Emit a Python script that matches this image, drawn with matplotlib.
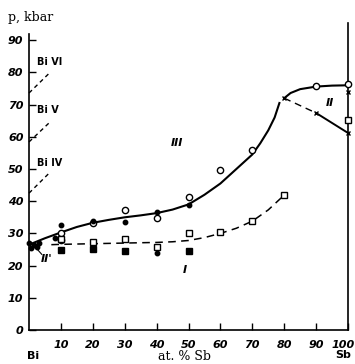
import matplotlib.pyplot as plt
from matplotlib.transforms import ScaledTranslation

# --- data ---
# curve III (solid), Bi side up to the kink near 80 % Sb
curve3_x = [0, 5, 10, 15, 20, 25, 30, 35, 40, 45, 50, 55, 60, 65, 70, 72.5, 75, 77, 78.5]
curve3_y = [26.5, 28.5, 30.3, 32.0, 33.3, 34.2, 35.0, 35.6, 36.3, 37.4, 39.0, 42.0, 45.5, 50.0, 54.5, 58.0, 62.0, 66.0, 70.5]
# upper branch from 80 to 100 % Sb
upper_x = [80, 82, 85, 90, 95, 100]
upper_y = [72.0, 73.6, 74.8, 75.6, 75.9, 76.0]
# curve II
curve2_dash_x = [80, 90]
curve2_dash_y = [72.0, 67.4]
curve2_solid_x = [90, 100]
curve2_solid_y = [67.4, 61.2]
# curve I (dashed)
curve1_x = [7, 10, 20, 30, 40, 45, 50, 55, 60, 65, 70, 75, 80]
curve1_y = [26.5, 26.6, 26.8, 27.0, 27.2, 27.4, 27.8, 28.7, 30.0, 31.6, 33.8, 37.3, 41.9]

open_circle_x = [10, 10, 20, 30, 40, 50, 60, 70, 90, 100]
open_circle_y = [30.0, 28.0, 33.2, 37.3, 34.8, 41.3, 49.7, 55.9, 75.8, 76.4]
filled_circle_x = [0, 0.5, 1.5, 2.5, 3, 8, 10, 20, 30, 40, 50, 40]
filled_circle_y = [27.0, 25.6, 26.4, 25.8, 27.0, 28.5, 32.6, 33.8, 33.5, 36.6, 38.8, 23.9]
open_square_x = [10, 20, 30, 40, 50, 60, 70, 80, 100]
open_square_y = [28.3, 27.3, 28.3, 25.8, 30.1, 30.4, 33.8, 41.9, 65.2]
filled_square_x = [10, 20, 30, 50]
filled_square_y = [24.8, 25.1, 24.5, 24.5]
cross_x = [80, 90, 100, 100]
cross_y = [72.0, 67.4, 73.9, 61.2]

# Bi high-pressure phase markers on the left axis
phase_labels = ["Bi VI", "Bi V", "Bi IV"]
phase_y0 = [73.6, 58.4, 42.5]
phase_y1 = [80.0, 64.6, 49.0]
phase_label_y = [83.2, 68.3, 51.9]

x_ticks = [10, 20, 30, 40, 50, 60, 70, 80, 90, 100]
y_ticks = [0, 10, 20, 30, 40, 50, 60, 70, 80, 90]

fig = plt.figure(figsize=(3.55, 3.64), dpi=100)
ax = fig.add_axes([29 / 355, 34 / 364, 319 / 355, 307.5 / 364])
ax.set_xlim(0, 100)
ax.set_ylim(0, 95.5)

dash = (0, (5, 3.5))
ax.plot(curve3_x, curve3_y, color="black", lw=1.5)
ax.plot(upper_x, upper_y, color="black", lw=1.5)
ax.plot(curve2_dash_x, curve2_dash_y, color="black", lw=1.0, linestyle=dash)
ax.plot(curve2_solid_x, curve2_solid_y, color="black", lw=1.4)
ax.plot(curve1_x, curve1_y, color="black", lw=1.1, linestyle=dash)

for y0, y1, ly, lab in zip(phase_y0, phase_y1, phase_label_y, phase_labels):
    ax.plot([0, 6.6], [y0, y1], color="black", lw=1.0, linestyle=(0, (3, 2.5)), clip_on=False)
    ax.text(2.5, ly, lab, fontsize=7, fontweight="bold", va="center")

ax.plot(open_circle_x, open_circle_y, "o", mfc="white", mec="black", ms=4.5, mew=1.0, clip_on=False, zorder=4)
ax.plot(filled_circle_x, filled_circle_y, "o", color="black", ms=3.2, clip_on=False, zorder=4)
ax.plot(open_square_x, open_square_y, "s", mfc="white", mec="black", ms=3.8, mew=1.0, clip_on=False, zorder=4)
ax.plot(filled_square_x, filled_square_y, "s", color="black", ms=3.8, clip_on=False, zorder=4)
ax.plot(cross_x, cross_y, "x", color="black", ms=3.5, mew=1.0, clip_on=False, zorder=5)

# curve labels
label_kw = dict(fontsize=8, fontweight="bold", style="italic", ha="center", va="center")
ax.text(46.4, 58, "III", **label_kw)
ax.text(94.3, 70.5, "II", **label_kw)
ax.text(49, 18.6, "I", **label_kw)
ax.text(5.5, 22.0, "II'", **label_kw)
ax.plot([2.2, 4.0], [25.5, 23.5], color="black", lw=0.8)

ax.spines["top"].set_visible(False)
ax.spines["left"].set_bounds(0, 92)
for side in ["left", "bottom", "right"]:
    ax.spines[side].set_linewidth(1.2)

ax.set_xticks(x_ticks)
ax.set_yticks(y_ticks)
ax.tick_params(direction="in", length=5, width=1.0, labelsize=8, pad=4)
ax.tick_params(axis="x", pad=7)
ax.tick_params(axis="y", right=False)
for lab in ax.get_xticklabels() + ax.get_yticklabels():
    lab.set_style("italic")
    lab.set_fontweight("bold")
# nudge "100" left so it stays inside the figure
last = ax.get_xticklabels()[-1]
last.set_transform(last.get_transform() + ScaledTranslation(-5 / 100, 0, fig.dpi_scale_trans))

fig.text(8 / 355, 1 - 18 / 364, "p, kbar", fontsize=9, family="DejaVu Serif", va="center")
fig.text(185 / 355, 1 - 357 / 364, "at. % Sb", fontsize=9, family="DejaVu Serif", ha="center", va="center")
fig.text(33 / 355, 1 - 356 / 364, "Bi", fontsize=8, fontweight="bold", ha="center", va="center")
fig.text(343 / 355, 1 - 355 / 364, "Sb", fontsize=8, fontweight="bold", ha="center", va="center")

fig.savefig("out.png", dpi=100)
